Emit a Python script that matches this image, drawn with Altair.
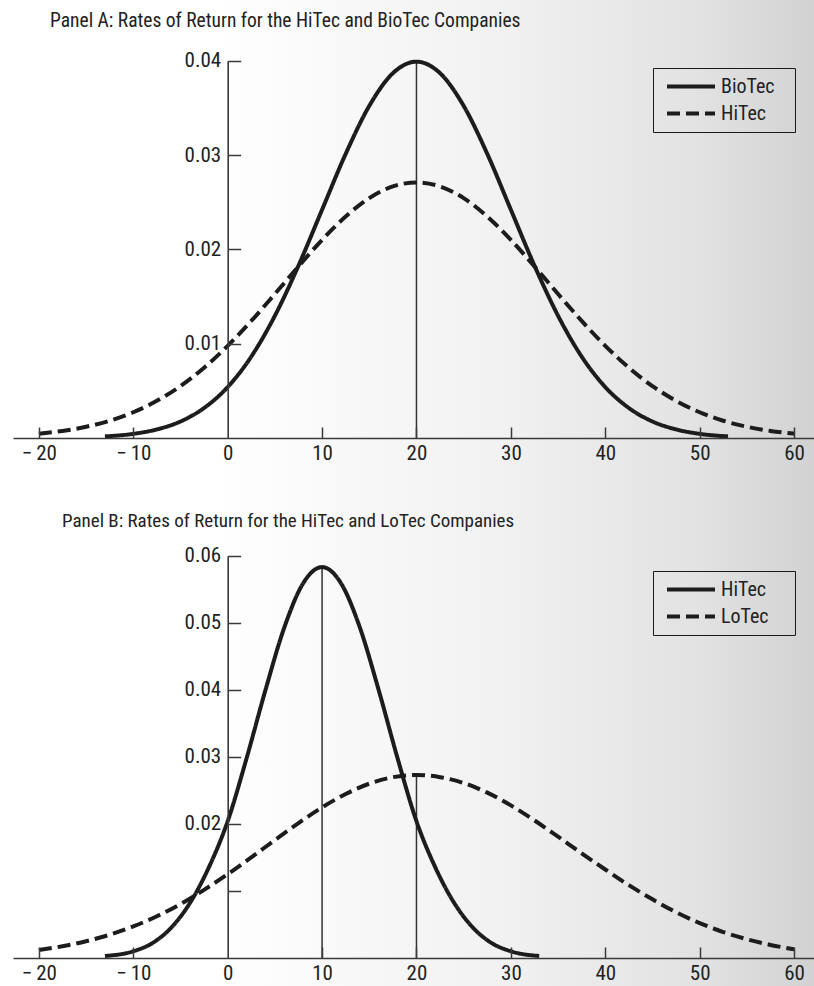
import altair as alt
import pandas as pd

W, H = 814, 986
FONT = "Liberation Sans Narrow, Arial Narrow, Roboto Condensed, DejaVu Sans Condensed, sans-serif"
INK = "#1c1c1c"
AXC = "#3a3a3a"

# ---------------- data ----------------
title_a = "Panel A: Rates of Return for the HiTec and BioTec Companies"
title_b = "Panel B: Rates of Return for the HiTec and LoTec Companies"

x_ticks = [-20, -10, 0, 10, 20, 30, 40, 50, 60]

# Panel A
a_names = ["BioTec", "HiTec"]
a_bio_x = [-13, -10, -7.5, -5, -2.5, 0, 2.5, 5, 7.5, 10, 12.5, 15, 17.5, 20,
           22.5, 25, 27.5, 30, 32.5, 35, 37.5, 40, 42.5, 45, 47.5, 50, 53]
a_bio_y = [0.00017, 0.00044, 0.00091, 0.00175, 0.00318, 0.0054, 0.00863, 0.01296,
           0.01827, 0.0242, 0.03012, 0.03521, 0.03867, 0.0399,
           0.03867, 0.03521, 0.03012, 0.0242, 0.01827, 0.01296, 0.00863, 0.0054,
           0.00318, 0.00175, 0.00091, 0.00044, 0.00017]
a_hi_x = [-20, -17.5, -15, -12.5, -10, -7.5, -5, -2.5, 0, 2.5, 5, 7.5, 10, 12.5,
          15, 17.5, 20, 22.5, 25, 27.5, 30, 32.5, 35, 37.5, 40, 42.5, 45, 47.5,
          50, 52.5, 55, 57.5, 60]
a_hi_y = [0.00046, 0.00075, 0.00119, 0.00183, 0.00273, 0.00394, 0.0055, 0.00745,
          0.00977, 0.01241, 0.01527, 0.01819, 0.0210, 0.02348, 0.02543, 0.02667,
          0.0271,
          0.02667, 0.02543, 0.02348, 0.0210, 0.01819, 0.01527, 0.01241, 0.00977,
          0.00745, 0.0055, 0.00394, 0.00273, 0.00183, 0.00119, 0.00075, 0.00046]
a_peak_x = [20]
a_peak_y = [0.0399]
a_y_ticks = [0.01, 0.02, 0.03, 0.04]
a_y_labels = [0.01, 0.02, 0.03, 0.04]

# Panel B
b_names = ["HiTec", "LoTec"]
b_hi_x = [-13, -10, -8, -6, -4, -2, 0, 2, 4, 6, 8, 10, 12, 14, 16, 18, 20, 22,
          24, 26, 28, 30, 33]
b_hi_y = [0.0003, 0.0010, 0.0022, 0.0045, 0.0082, 0.0135, 0.0204, 0.02977,
          0.03995, 0.0493, 0.0559, 0.0583, 0.0559, 0.0493, 0.03995, 0.02977,
          0.0204, 0.0135, 0.0082, 0.0045, 0.0022, 0.0010, 0.0003]
b_lo_x = a_hi_x
b_lo_y = [0.0012, 0.00175, 0.0025, 0.00347, 0.00471, 0.00623, 0.00805, 0.01016,
          0.0125, 0.01501, 0.01759, 0.02012, 0.02246, 0.02446, 0.0260, 0.02697,
          0.0273,
          0.02697, 0.0261, 0.02466, 0.02276, 0.02052, 0.01809, 0.01561, 0.0132,
          0.01086, 0.00875, 0.00683, 0.00521, 0.00387, 0.0028, 0.00195, 0.0013]
b_peak_x = [10, 20]
b_peak_y = [0.0583, 0.0273]
b_y_ticks = [0.01, 0.02, 0.03, 0.04, 0.05, 0.06]
b_y_labels = [0.02, 0.03, 0.04, 0.05, 0.06]

# ---------------- tables ----------------
dfA = pd.DataFrame({
    "x": a_bio_x + a_hi_x,
    "y": a_bio_y + a_hi_y,
    "company": [a_names[0]] * len(a_bio_x) + [a_names[1]] * len(a_hi_x),
})
dfB = pd.DataFrame({
    "x": b_hi_x + b_lo_x,
    "y": b_hi_y + b_lo_y,
    "company": [b_names[0]] * len(b_hi_x) + [b_names[1]] * len(b_lo_x),
})
pkA = pd.DataFrame({"x": a_peak_x, "y": a_peak_y, "y0": [0] * len(a_peak_x)})
pkB = pd.DataFrame({"x": b_peak_x, "y": b_peak_y, "y0": [0] * len(b_peak_x)})
one = pd.DataFrame({"a": [0]})

# ---------------- scales ----------------
X0 = 227.7            # pixel of x = 0
A0, A_TOP = 438, 60.7  # panel A baseline / top
B0, B_TOP = 958, 555.7

xs = alt.Scale(domain=[-22.74, 62.11], range=[13, W], nice=False, zero=False)
ysA = alt.Scale(domain=[0, 0.04], range=[A0, A_TOP], nice=False, zero=False)
ysB = alt.Scale(domain=[0, 0.06], range=[B0, B_TOP], nice=False, zero=False)

MINUS_EXPR = "datum.value < 0 ? '\u2212\u2009' + format(-datum.value, 'd') : datum.label"


def x_label_axis(base):
    return alt.Axis(orient="bottom", offset=-(H - base), values=x_ticks, ticks=False,
                    domain=True, domainColor=AXC, domainWidth=1.6, grid=False,
                    labelFont=FONT, labelFontSize=21, labelColor="#222",
                    labelPadding=4, labelFlush=False, labelOverlap=False,
                    format="d", labelExpr=MINUS_EXPR, title=None, zindex=1)


def x_tick_axis(base):
    return alt.Axis(orient="top", offset=-base, values=[v for v in x_ticks if v != 0],
                    labels=False, domain=False, ticks=True, tickSize=11,
                    tickWidth=1.5, tickColor=AXC, grid=False, title=None, zindex=1)


def y_label_axis(vals):
    return alt.Axis(orient="left", offset=-X0, values=vals, ticks=False, domain=True,
                    domainColor=AXC, domainWidth=1.6, grid=False, labelFont=FONT,
                    labelFontSize=21, labelColor="#222", labelPadding=7,
                    labelOverlap=False, format=".2f", title=None, zindex=1)


def y_tick_axis(vals):
    return alt.Axis(orient="right", offset=-(W - X0), values=vals, labels=False,
                    domain=False, ticks=True, tickSize=13, tickWidth=1.5,
                    tickColor=AXC, grid=False, title=None, zindex=1)


def legend(y, spacer, spacer_size):
    # an invisible title on the right side widens the box like the reference
    return alt.Legend(orient="none", legendX=653, legendY=y, title=spacer,
                      titleOrient="right", titleOpacity=0, titlePadding=0,
                      titleFontSize=spacer_size, titleFont=FONT,
                      symbolType="stroke", symbolSize=48 * 48, symbolStrokeWidth=4,
                      symbolStrokeColor=INK, symbolOffset=4, clipHeight=21,
                      rowPadding=6, padding=8, labelOffset=4, labelFont=FONT,
                      labelFontSize=20, labelColor="#222", strokeColor="#1a1a1a")


DASH = [13, 6]

bg = alt.Chart(one).mark_rect(
    fill=alt.Gradient(
        gradient="linear", x1=0, x2=1, y1=0, y2=0,
        stops=[alt.GradientStop(color="#ffffff", offset=0),
               alt.GradientStop(color="#ffffff", offset=0.26),
               alt.GradientStop(color="#f1f1f1", offset=0.62),
               alt.GradientStop(color="#e2e2e2", offset=0.86),
               alt.GradientStop(color="#d2d2d2", offset=1)])
).encode(x=alt.value(0), x2=alt.value(W), y=alt.value(0), y2=alt.value(H))

titles = alt.Chart(pd.DataFrame({"t": [title_a, title_b], "px": [50, 62],
                                 "py": [21, 521], "fs": [19.5, 19]})
                   ).mark_text(align="left", baseline="middle", font=FONT,
                               color="#222").encode(
    x=alt.X("px:Q", scale=None), y=alt.Y("py:Q", scale=None), text="t:N",
    size=alt.Size("fs:Q", scale=None, legend=None))

lineA = alt.Chart(dfA).mark_line(color=INK, strokeWidth=4, interpolate="monotone",
                                 strokeCap="butt").encode(
    x=alt.X("x:Q", scale=xs, axis=x_label_axis(A0)),
    y=alt.Y("y:Q", scale=ysA, axis=y_label_axis(a_y_labels)),
    strokeDash=alt.StrokeDash("company:N",
                              scale=alt.Scale(domain=a_names, range=[[1, 0], DASH]),
                              legend=legend(68, "M", 15)),
    detail="company:N",
)
ruleA = alt.Chart(pkA).mark_rule(color="#333", strokeWidth=1.5).encode(
    x=alt.X("x:Q", scale=xs, axis=x_tick_axis(A0)),
    y=alt.Y("y:Q", scale=ysA, axis=y_tick_axis(a_y_ticks)),
    y2="y0:Q",
)

lineB = alt.Chart(dfB).mark_line(color=INK, strokeWidth=4, interpolate="monotone",
                                 strokeCap="butt").encode(
    x=alt.X("x:Q", scale=xs, axis=x_label_axis(B0)),
    y=alt.Y("y:Q", scale=ysB, axis=y_label_axis(b_y_labels)),
    strokeDash=alt.StrokeDash("company:N",
                              scale=alt.Scale(domain=b_names, range=[[1, 0], DASH]),
                              legend=legend(571, "MM", 11.5)),
    detail="company:N",
)
ruleB = alt.Chart(pkB).mark_rule(color="#333", strokeWidth=1.5).encode(
    x=alt.X("x:Q", scale=xs, axis=x_tick_axis(B0)),
    y=alt.Y("y:Q", scale=ysB, axis=y_tick_axis(b_y_ticks)),
    y2="y0:Q",
)

chart = alt.layer(bg, titles, ruleA, lineA, ruleB, lineB).resolve_scale(
    x="independent", y="independent", strokeDash="independent"
).properties(
    width=W, height=H, padding=0, autosize=alt.AutoSizeParams(type="none"),
    background="#ffffff",
).configure_view(stroke=None)

chart.save("out.html", embed_options={"renderer": "svg", "actions": False})
